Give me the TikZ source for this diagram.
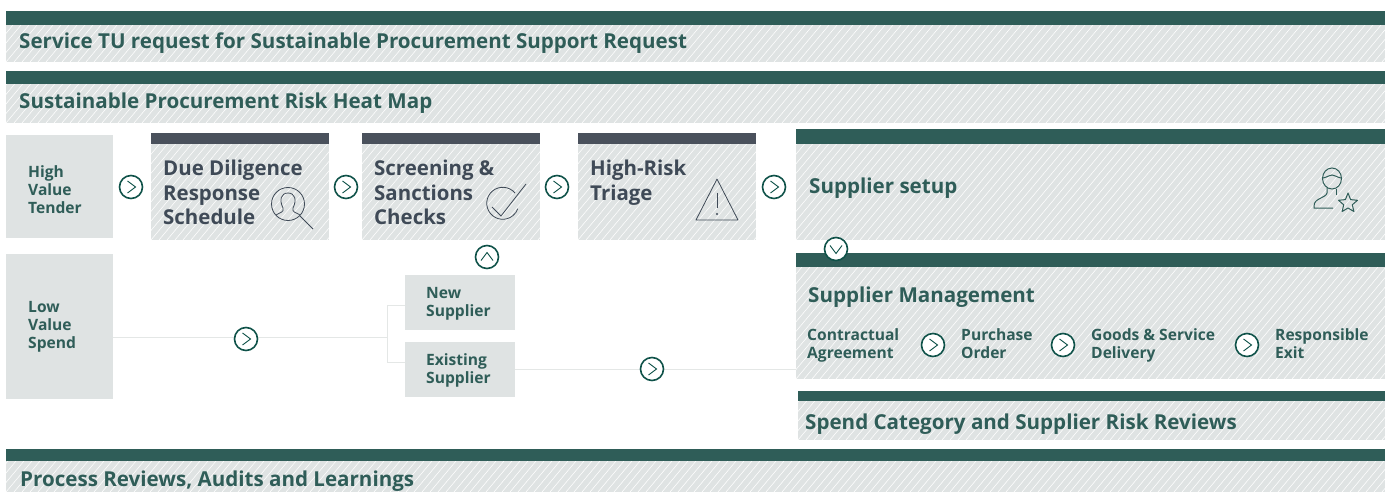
\documentclass[tikz,border=0pt]{standalone}
\usepackage{fontspec}
\setmainfont{Open Sans}
\usetikzlibrary{positioning}
\definecolor{pinegreen}{HTML}{2F5D58}
\definecolor{discgreen}{HTML}{0F5249}
\definecolor{slatebar}{HTML}{4A515C}
\definecolor{slatetext}{HTML}{3F4A57}
\definecolor{palegray}{HTML}{DFE3E3}
\definecolor{linegray}{HTML}{E4E7E6}
\tikzset{
	box/.style={anchor=north west, inner sep=0pt, outer sep=0pt},
	hatchbox/.style={box, fill=palegray, path picture={
		\foreach \i in {-136,-128,...,1390}
			\draw[white, line width=0.55pt] ([xshift=\i pt]path picture bounding box.south west) -- ++(120,-143);
	}},
	plainbox/.style={box, fill=palegray},
	greenbar/.style={box, fill=pinegreen},
	slatebarbox/.style={box, fill=slatebar},
	bandtext/.style={anchor=west, inner sep=0pt, text=pinegreen, font=\bfseries\fontsize{20.58}{24}\selectfont},
	slatelabel/.style={anchor=north west, inner sep=0pt, align=left, text=slatetext, font=\bfseries\fontsize{20.45}{24.5}\selectfont},
	smalltext/.style={anchor=north west, inner sep=0pt, align=left, text=pinegreen, font=\bfseries\fontsize{15.6}{18}\selectfont},
	disc/.style={circle, draw=discgreen, line width=1.6pt, fill=white, minimum size=23pt, inner sep=0pt},
	discright/.style={disc, path picture={\draw[discgreen, line width=0.9pt] ([shift={(-3.5,-6)}]path picture bounding box.center) -- ++(8,6) -- ++(-8,6);}},
	discup/.style={disc, path picture={\draw[discgreen, line width=0.9pt] ([shift={(-6,3.5)}]path picture bounding box.center) -- ++(6,-8) -- ++(6,8);}},
	discdown/.style={disc, path picture={\draw[discgreen, line width=0.9pt] ([shift={(-6,-3.5)}]path picture bounding box.center) -- ++(6,8) -- ++(6,-8);}},
	flowline/.style={draw=linegray, line width=1pt},
	iconslate/.style={draw=slatetext, line width=0.8pt},
	icongreen/.style={draw=pinegreen, line width=1pt},
}
\begin{document}
\begin{tikzpicture}[x=1pt, y=-1pt]
	\useasboundingbox (0,0) rectangle (1385,492);
	% full width bands
	\node[hatchbox, minimum width=1379pt, minimum height=37pt] (service) at (6,25) {};
	\node[greenbar, minimum width=1379pt, minimum height=14pt] (servicebar) at (6,11) {};
	\node[bandtext] (servicetext) at (19,43) {Service TU request for Sustainable Procurement Support Request};
	\node[hatchbox, minimum width=1379pt, minimum height=39pt] (heat) at (6,84) {};
	\node[greenbar, minimum width=1379pt, minimum height=13pt] (heatbar) at (6,71) {};
	\node[bandtext] (heattext) at (19,103) {Sustainable Procurement Risk Heat Map};
	\node[hatchbox, minimum width=1379pt, minimum height=31pt] (process) at (6,461) {};
	\node[greenbar, minimum width=1379pt, minimum height=12pt] (processbar) at (6,449) {};
	\node[bandtext] (processtext) at (20,481) {Process Reviews, Audits and Learnings};
	% left column
	\node[plainbox, minimum width=107pt, minimum height=103pt] (high) at (6,135) {};
	\node[smalltext] (hightext) at (28,165) {High\\Value\\Tender};
	\node[plainbox, minimum width=107pt, minimum height=145pt] (low) at (6,254) {};
	\node[smalltext] (lowtext) at (28,301) {Low\\Value\\Spend};
	% due diligence stages
	\node[hatchbox, minimum width=178pt, minimum height=96pt] (due) at (151,144) {};
	\node[slatebarbox, minimum width=178pt, minimum height=11pt] (duebar) at (151,133) {};
	\node[slatelabel] (duetext) at (163,160) {Due Diligence\\Response\\Schedule};
	\node[hatchbox, minimum width=178pt, minimum height=96pt] (screen) at (362,144) {};
	\node[slatebarbox, minimum width=178pt, minimum height=11pt] (screenbar) at (362,133) {};
	\node[slatelabel] (screentext) at (374,160) {Screening \&\\Sanctions\\Checks};
	\node[hatchbox, minimum width=178pt, minimum height=96pt] (triage) at (578,144) {};
	\node[slatebarbox, minimum width=178pt, minimum height=11pt] (triagebar) at (578,133) {};
	\node[slatelabel] (triagetext) at (590,160) {High-Risk\\Triage};
	% supplier boxes
	\node[plainbox, minimum width=110pt, minimum height=55pt] (new) at (405,275) {};
	\node[smalltext] (newtext) at (426,287) {New\\Supplier};
	\node[plainbox, minimum width=110pt, minimum height=55pt] (existing) at (405,342) {};
	\node[smalltext] (existingtext) at (426,353) {Existing\\Supplier};
	% right column
	\node[hatchbox, minimum width=589pt, minimum height=96pt] (setup) at (796,144) {};
	\node[greenbar, minimum width=589pt, minimum height=15pt] (setupbar) at (796,129) {};
	\node[bandtext] (setuptext) at (809,188) {Supplier setup};
	\node[hatchbox, minimum width=589pt, minimum height=112pt] (manage) at (796,267) {};
	\node[greenbar, minimum width=589pt, minimum height=14pt] (managebar) at (796,253) {};
	\node[bandtext] (managetext) at (808,297) {Supplier Management};
	\node[smalltext] (contract) at (807,328) {Contractual\\Agreement};
	\node[smalltext] (purchase) at (961,328) {Purchase\\Order};
	\node[smalltext] (goods) at (1091,328) {Goods \& Service\\Delivery};
	\node[smalltext] (exit) at (1275,328) {Responsible\\Exit};
	\node[hatchbox, minimum width=587pt, minimum height=39pt] (spend) at (798,401) {};
	\node[greenbar, minimum width=587pt, minimum height=10pt] (spendbar) at (798,391) {};
	\node[bandtext] (spendtext) at (805,424) {Spend Category and Supplier Risk Reviews};
	% connectors
	\coordinate (fork) at (387,337);
	\coordinate (newfork) at (387,305);
	\coordinate (existingfork) at (387,362);
	\draw[flowline] (low.east |- fork) -- (fork);
	\draw[flowline] (new.west |- newfork) -- (newfork) -- (existingfork) -- (existing.west |- existingfork);
	\coordinate (existingout) at (515,369);
	\draw[flowline] (existingout) -- (manage.west |- existingout);
	% discs
	\node[discright] (highnext) at (131,187) {};
	\node[discright] (duenext) at (346,187) {};
	\node[discright] (screennext) at (557,187) {};
	\node[discright] (triagenext) at (774,187) {};
	\node[discup] (newup) at (487,257) {};
	\node[discdown] (setupdown) at (836,249) {};
	\node[discright] (lownext) at (246,339) {};
	\node[discright] (existingnext) at (652,369) {};
	\node[discright] (contractnext) at (933,345) {};
	\node[discright] (purchasenext) at (1063,345) {};
	\node[discright] (goodsnext) at (1247,345) {};
	% icons
	\draw[iconslate] (288,204) circle (16.5);
	\draw[iconslate] (300,216) -- (313,229);
	\draw[iconslate] (276,215) .. controls (280,212) and (284,213) .. (283,208) .. controls (279,200) and (281,193) .. (288,193) .. controls (295,193) and (297,200) .. (293,208) .. controls (292,213) and (296,212) .. (300,215);
	\draw[iconslate] (515,193) arc (-40:-340:16) (492,207) -- (501,216) -- (526,184);
	\draw[iconslate, line join=round] (717,179) -- (738,220) -- (696,220) -- cycle;
	\draw[iconslate] (717,193) -- (717,208);
	\fill[slatetext] (717,214) circle (1.2);
	\draw[icongreen] (1332,178.5) ellipse (9.5 and 10.5);
	\draw[icongreen] (1323,178) .. controls (1328,177) and (1329,175) .. (1332,175) .. controls (1335,175) and (1336,177) .. (1341,178);
	\draw[icongreen] (1327,188) -- (1327,193) .. controls (1326,198) and (1314,198) .. (1314,206) -- (1314,208) -- (1333,208);
	\draw[icongreen] (1336,189) -- (1336,195);
	\draw[icongreen, line join=round] (1348,193) -- (1350.6,199.6) -- (1357.5,200.3) -- (1352.3,204.8) -- (1353.9,211.5) -- (1348,208) -- (1342.1,211.5) -- (1343.7,204.8) -- (1338.5,200.3) -- (1345.4,199.6) -- cycle;
\end{tikzpicture}
\end{document}
